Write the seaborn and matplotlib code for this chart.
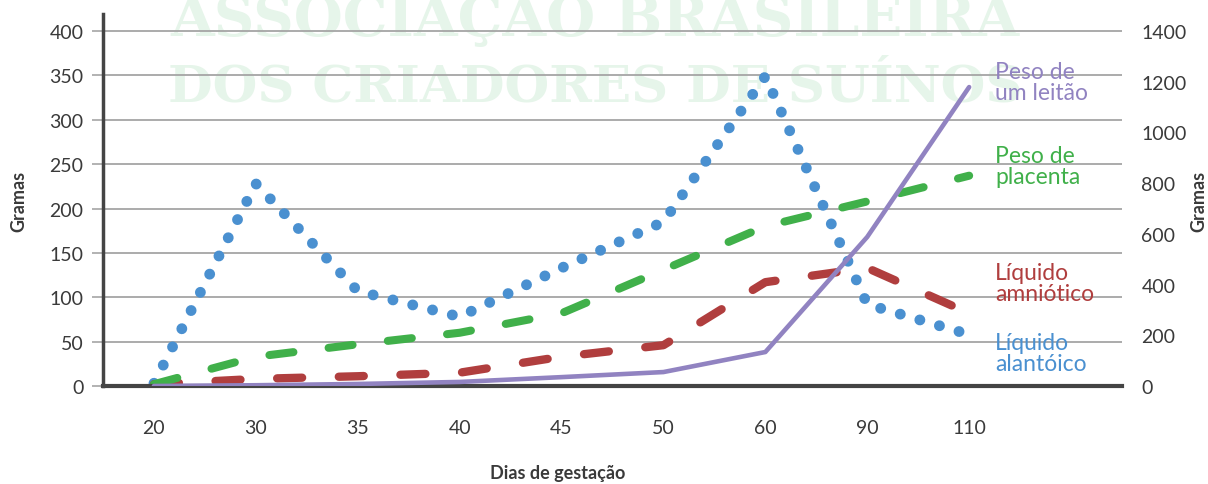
import numpy as np
import pandas as pd
import seaborn as sns
import matplotlib.pyplot as plt

# dados
dias = ['20', '30', '35', '40', '45', '50', '60', '90', '110']
liquido_alantoico = [3, 228, 107, 78, 133, 185, 349, 92, 58]
liquido_amniotico = [2, 8, 11, 15, 33, 46, 117, 133, 82]
peso_placenta = [2, 33, 47, 60, 82, 131, 180, 208, 237]
peso_leitao = [0, 3, 8, 16, 35, 55, 134, 588, 1179]   # eixo da direita

df = pd.DataFrame({'pos': np.arange(len(dias)), 'dia': dias,
                   'alantoico': liquido_alantoico, 'amniotico': liquido_amniotico,
                   'placenta': peso_placenta, 'leitao': peso_leitao})

azul, vermelho, verde, roxo = '#4a90d0', '#b03e3e', '#40b04a', '#9183c1'
cinza = '#3a3a3a'

sns.set_style('white')
plt.rcParams['font.family'] = ['Lato', 'DejaVu Sans']

fig = plt.figure(figsize=(12.08, 4.85), dpi=100)
fig.patch.set_facecolor('white')

# marca d'agua
for txt, yb, fs in [('ASSOCIAÇÃO BRASILEIRA', 1 - 36/485, 40.5),
                    ('DOS CRIADORES DE SUÍNOS', 1 - 102/485, 37)]:
    fig.text(595/1208, yb, txt, ha='center', va='baseline', fontsize=fs,
             fontweight='bold', family='DejaVu Serif', color='#e6f5ea', zorder=-1)

ax = fig.add_axes([103/1208, 1 - 387/485, (1122 - 103)/1208, (387 - 15)/485])
ax.set_facecolor('none')

sns.lineplot(data=df, x='pos', y='alantoico', ax=ax, color=azul, lw=7.8,
             linestyle=(0, (0.01, 1.875)), dash_capstyle='round', legend=False)
sns.lineplot(data=df, x='pos', y='amniotico', ax=ax, color=vermelho, lw=6.0,
             linestyle=(0, (3.0, 4.4)), dash_capstyle='round', legend=False)
sns.lineplot(data=df, x='pos', y='placenta', ax=ax, color=verde, lw=5.8,
             linestyle=(0, (3.0, 4.4)), dash_capstyle='round', legend=False)

ax.set_xlim(-0.5, 9.5)
ax.set_ylim(0, 419.2)
ax.set_yticks(np.arange(0, 401, 50))
ax.set_xticks(df['pos'])
ax.set_xticklabels(dias)
ax.yaxis.grid(True, color='#a5a5a5', lw=1.3)
ax.set_axisbelow(True)
ax.tick_params(axis='y', length=8, width=1.2, color='#a5a5a5', pad=6,
               labelsize=14, labelcolor=cinza)
ax.tick_params(axis='x', length=0, pad=24, labelsize=14, labelcolor=cinza)
for s in ['top', 'right']:
    ax.spines[s].set_visible(False)
ax.spines['left'].set_color('#444444')
ax.spines['left'].set_linewidth(2.5)
ax.spines['bottom'].set_color('#444444')
ax.spines['bottom'].set_linewidth(3)

ax.set_ylabel('Gramas', fontsize=13, fontweight='bold', color=cinza)
ax.yaxis.set_label_coords((27 - 103)/1019, 0.5)
ax.set_xlabel('Dias de gestação', fontsize=13, fontweight='bold', color=cinza)
ax.xaxis.set_label_coords((558 - 103)/1019, (387 - 465)/372)

ax2 = ax.twinx()
sns.lineplot(data=df, x='pos', y='leitao', ax=ax2, color=roxo, lw=3.3, legend=False)
ax2.set_ylim(0, 1400 * 419.2/400)
ax2.set_yticks(np.arange(0, 1401, 200))
ax2.tick_params(axis='y', length=0, pad=14, labelsize=14, labelcolor=cinza)
for s in ax2.spines.values():
    s.set_visible(False)
ax2.set_ylabel('Gramas', fontsize=13, fontweight='bold', color=cinza)
ax2.yaxis.set_label_coords((1190 - 103)/1019, 0.5)

# rotulos das series
rotulos = [('Peso de\num leitão', roxo, 83), ('Peso de\nplacenta', verde, 167),
           ('Líquido\namniótico', vermelho, 284), ('Líquido\nalantóico', azul, 354)]
for txt, cor, yc in rotulos:
    fig.text(995/1208, 1 - yc/485, txt, ha='left', va='center', fontsize=16.5,
             color=cor, linespacing=0.95)

fig.savefig('out.png', dpi=100)
